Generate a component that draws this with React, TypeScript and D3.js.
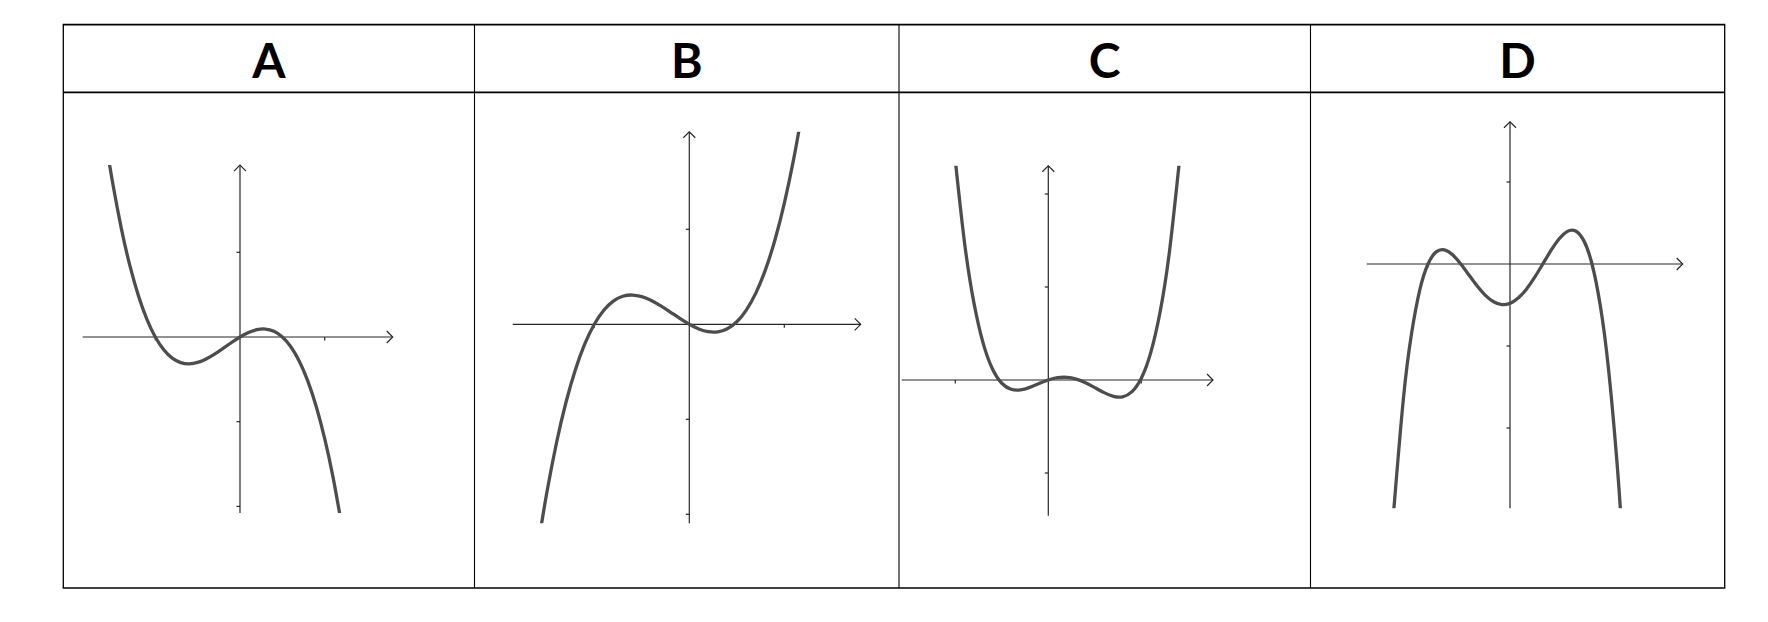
import React from "react";
import * as d3 from "d3";

// ---------- data (in axis units) ----------
const categories = ["A", "B", "C", "D"];

const curveA: [number, number][] = [
  [-1.56, 2.159], [-1.5, 1.8], [-1.4, 1.277], [-1.3, 0.842], [-1.2, 0.49], [-1.1, 0.211],
  [-1.0, 0], [-0.9, -0.151], [-0.8, -0.25], [-0.7, -0.302], [-0.6, -0.317], [-0.5, -0.3],
  [-0.4, -0.259], [-0.3, -0.202], [-0.2, -0.134], [-0.1, -0.065], [0, 0], [0.1, 0.053],
  [0.2, 0.086], [0.3, 0.094], [0.4, 0.067], [0.5, 0], [0.6, -0.115], [0.7, -0.286],
  [0.8, -0.518], [0.9, -0.821], [1.0, -1.2], [1.1, -1.663], [1.2, -2.218],
];

const curveB: [number, number][] = [
  [-1.57, -2.191], [-1.5, -1.773], [-1.4, -1.257], [-1.3, -0.828], [-1.2, -0.481], [-1.1, -0.207],
  [-1.0, 0], [-0.9, 0.148], [-0.8, 0.244], [-0.7, 0.295], [-0.6, 0.308], [-0.5, 0.291],
  [-0.4, 0.251], [-0.3, 0.194], [-0.2, 0.129], [-0.1, 0.062], [0, 0], [0.1, -0.049],
  [0.2, -0.078], [0.3, -0.08], [0.4, -0.047], [0.5, 0.027], [0.6, 0.15], [0.7, 0.328],
  [0.8, 0.57], [0.9, 0.882], [1.0, 1.272], [1.1, 1.746], [1.17, 2.133],
];

const curveC: [number, number][] = [
  [-1.0, 2.363], [-0.9, 1.471], [-0.8, 0.83], [-0.7, 0.394], [-0.6, 0.118], [-0.5, -0.035],
  [-0.4, -0.1], [-0.3, -0.107], [-0.2, -0.079], [-0.1, -0.038], [0, 0], [0.1, 0.0245],
  [0.2, 0.0285], [0.3, 0.0098], [0.4, -0.029], [0.5, -0.0815], [0.6, -0.136], [0.7, -0.176],
  [0.8, -0.181], [0.9, -0.125], [1.0, 0.0195], [1.1, 0.289], [1.2, 0.721], [1.3, 1.359],
  [1.41, 2.357],
];

const curveD: [number, number][] = [
  [-1.42, -3.034], [-1.3, -1.642], [-1.2, -0.845], [-1.1, -0.315], [-1.0, 0], [-0.9, 0.148],
  [-0.8, 0.1728], [-0.7, 0.1122], [-0.6, 0], [-0.5, -0.135], [-0.4, -0.2688], [-0.3, -0.3822],
  [-0.2, -0.4608], [-0.1, -0.495], [0, -0.48], [0.1, -0.4158], [0.2, -0.3072], [0.3, -0.1638],
  [0.4, 0], [0.5, 0.165], [0.6, 0.3072], [0.7, 0.3978], [0.8, 0.4032], [0.9, 0.285],
  [1.0, 0], [1.1, -0.4998], [1.2, -1.2672], [1.3, -2.3598], [1.35, -3.047],
];

const curves = [curveA, curveB, curveC, curveD];

const xTicksA = [-1, 1];
const xTicksB = [-1, 1];
const xTicksC = [-1, 1];
const xTicksD = [-1, 1];
const yTicksA = [-2, -1, 1];
const yTicksB = [-2, -1, 1];
const yTicksC = [-1, 1, 2];
const yTicksD = [-2, -1, 1];
const xTicks = [xTicksA, xTicksB, xTicksC, xTicksD];
const yTicks = [yTicksA, yTicksB, yTicksC, yTicksD];

const xWindows: [number, number][] = [[-1.857, 1.803], [-1.859, 1.804], [-1.576, 1.771], [-1.748, 2.106]];
const yWindows: [number, number][] = [[-2.078, 2.03], [-2.095, 2.027], [-1.459, 2.304], [-2.979, 1.735]];

// ---------- layout ----------
const W = 1768;
const H = 622;
const T_LEFT = 63.3;
const T_RIGHT = 1724.7;
const T_TOP = 24.7;
const T_HEAD = 92.3;
const T_BOTTOM = 588;
const COL_EDGES = [T_LEFT, 474.5, 899, 1310.5, T_RIGHT];
const ORIGINS = [
  { ox: 240, oy: 337, unit: 84.7 },
  { ox: 689.3, oy: 324.3, unit: 95 },
  { ox: 1048.3, oy: 380, unit: 93 },
  { ox: 1510, oy: 264, unit: 82 },
];

const CURVE_COLOR = "#4d4d4d";
const AXIS_COLOR = "#262626";

function Panel({ i }: { i: number }) {
  const { ox, oy, unit } = ORIGINS[i];
  const x = d3.scaleLinear().domain([0, 1]).range([ox, ox + unit]);
  const y = d3.scaleLinear().domain([0, 1]).range([oy, oy - unit]);
  const [xw0, xw1] = xWindows[i];
  const [yw0, yw1] = yWindows[i];
  const line = d3
    .line<[number, number]>()
    .x((d) => x(d[0]))
    .y((d) => y(d[1]))
    .curve(d3.curveNatural);
  const clipId = `clip-${i}`;
  const xr = x(xw1);
  const yt = y(yw1);
  const a = 6;
  return (
    <g>
      <defs>
        <clipPath id={clipId}>
          <rect
            x={COL_EDGES[i] + 1}
            y={yt}
            width={COL_EDGES[i + 1] - COL_EDGES[i] - 2}
            height={y(yw0) - yt}
          />
        </clipPath>
      </defs>
      {/* axes */}
      <g stroke={AXIS_COLOR} strokeWidth={1.2} fill="none">
        <line x1={x(xw0)} y1={y(0)} x2={xr} y2={y(0)} />
        <line x1={x(0)} y1={y(yw0)} x2={x(0)} y2={yt} />
        <polyline points={`${xr - a},${y(0) - a} ${xr},${y(0)} ${xr - a},${y(0) + a}`} />
        <polyline points={`${x(0) - a},${yt + a} ${x(0)},${yt} ${x(0) + a},${yt + a}`} />
        {xTicks[i].map((t) => (
          <line key={`xt${t}`} x1={x(t)} y1={y(0)} x2={x(t)} y2={y(0) + 3.5} />
        ))}
        {yTicks[i].map((t) => (
          <line key={`yt${t}`} x1={x(0) - 3.5} y1={y(t)} x2={x(0)} y2={y(t)} />
        ))}
      </g>
      <path
        d={line(curves[i]) || ""}
        fill="none"
        stroke={CURVE_COLOR}
        strokeWidth={3.3}
        clipPath={`url(#${clipId})`}
      />
    </g>
  );
}

export default function App() {
  return (
    <svg
      width={W}
      height={H}
      viewBox={`0 0 ${W} ${H}`}
      style={{ position: "absolute", left: 0, top: 0, background: "#fff" }}
    >
      <rect x={0} y={0} width={W} height={H} fill="#fff" />
      {categories.map((c, i) => (
        <text
          key={c}
          x={(COL_EDGES[i] + COL_EDGES[i + 1]) / 2}
          y={78.3}
          textAnchor="middle"
          fontFamily="Lato, 'Open Sans', sans-serif"
          fontWeight={700}
          fontSize={48}
          fill="#000"
        >
          {c}
        </text>
      ))}
      {categories.map((c, i) => (
        <Panel key={`p${c}`} i={i} />
      ))}
      {/* table */}
      <g stroke="#000" fill="none">
        <line x1={T_LEFT - 0.6} y1={T_TOP} x2={T_RIGHT + 0.6} y2={T_TOP} strokeWidth={1.8} />
        <line x1={T_LEFT} y1={T_HEAD} x2={T_RIGHT} y2={T_HEAD} strokeWidth={1.8} />
        <line x1={T_LEFT - 0.6} y1={T_BOTTOM} x2={T_RIGHT + 0.6} y2={T_BOTTOM} strokeWidth={1.3} />
        {COL_EDGES.map((cx, k) => (
          <line
            key={`c${k}`}
            x1={cx}
            y1={T_TOP}
            x2={cx}
            y2={T_BOTTOM}
            strokeWidth={k === 0 || k === COL_EDGES.length - 1 ? 1.3 : 1.1}
          />
        ))}
      </g>
    </svg>
  );
}
